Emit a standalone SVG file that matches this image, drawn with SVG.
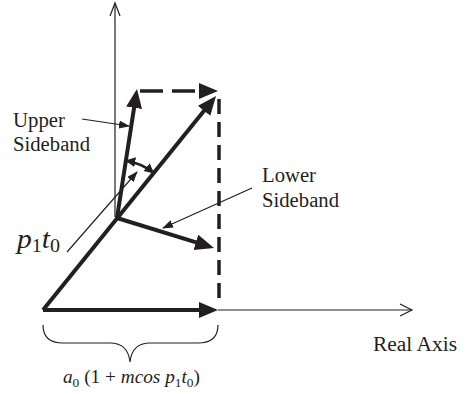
<svg xmlns="http://www.w3.org/2000/svg" width="465" height="394" viewBox="0 0 465 394">
<defs>
<style>
text{font-family:"Liberation Serif","DejaVu Serif","Times New Roman",Times,serif;fill:#231f20}
.lbl{font-size:20.5px}
.it{font-style:italic}
.thick{stroke:#231f20;stroke-width:4;fill:none;stroke-linecap:butt}
.thin{stroke:#231f20;stroke-width:1.2;fill:none}
.dash{stroke:#231f20;stroke-width:3.5;fill:none}
</style>
<marker id="big" markerUnits="userSpaceOnUse" markerWidth="22" markerHeight="18" refX="8" refY="8" orient="auto">
<path d="M0,0 L19,8 L0,16 z" fill="#231f20"/>
</marker>
<marker id="small" markerUnits="userSpaceOnUse" markerWidth="12" markerHeight="10" refX="10" refY="4" orient="auto">
<path d="M0,0 L11,4 L0,8 z" fill="#231f20"/>
</marker>
<marker id="arcHead" markerUnits="userSpaceOnUse" markerWidth="12" markerHeight="12" refX="9" refY="5" orient="auto-start-reverse">
<path d="M0,0 L10,5 L0,10 z" fill="#231f20"/>
</marker>
</defs>
<rect width="465" height="394" fill="#ffffff"/>

<g id="axes">
<line class="thin" x1="115" y1="217" x2="115" y2="3"/>
<polyline class="thin" points="110,16 115,3 120,16"/>
<line class="thin" x1="218" y1="310" x2="412" y2="310"/>
<polyline class="thin" points="400,304 412,310 400,316"/>
</g>

<g id="connectors">
<line id="carrier-real" class="thick" x1="43" y1="310" x2="207" y2="310" marker-end="url(#big)"/>
<line id="carrier" class="thick" x1="43" y1="310" x2="209.1" y2="104.6" marker-end="url(#big)"/>
<line id="upper-sb" class="thick" x1="117" y1="218" x2="135.3" y2="99.9" marker-end="url(#big)"/>
<line id="lower-sb" class="thick" x1="117" y1="218" x2="203.5" y2="244.7" marker-end="url(#big)"/>
<line id="dash-h" class="dash" x1="140" y1="91" x2="207" y2="91" stroke-dasharray="23,9" marker-end="url(#big)"/>
<line id="dash-v" class="dash" x1="219" y1="99" x2="219" y2="305" stroke-dasharray="15,8"/>
<path id="angle" d="M126.3,160.7 A58,58 0 0,1 153.5,172.8" stroke="#231f20" stroke-width="2.5" fill="none" marker-start="url(#arcHead)" marker-end="url(#arcHead)"/>
<line class="thin" x1="82" y1="119" x2="129" y2="126" marker-end="url(#small)"/>
<line class="thin" x1="252" y1="188" x2="163" y2="228" marker-end="url(#small)"/>
<line class="thin" x1="67" y1="252" x2="137" y2="172" marker-end="url(#small)"/>
<path id="brace" class="thin" d="M43,325 Q43,343 63,343 L110,343 Q128,343 130,362 Q132,343 150,343 L198,343 Q218,343 218,325"/>
</g>

<g id="upper-label">
<text class="lbl" x="13" y="127" textLength="52" lengthAdjust="spacingAndGlyphs">Upper</text>
<text class="lbl" x="13" y="151" textLength="77" lengthAdjust="spacingAndGlyphs">Sideband</text>
</g>
<g id="lower-label">
<text class="lbl" x="262" y="182" textLength="54" lengthAdjust="spacingAndGlyphs">Lower</text>
<text class="lbl" x="262" y="207" textLength="77" lengthAdjust="spacingAndGlyphs">Sideband</text>
</g>
<g id="real-axis-label">
<text class="lbl" x="373" y="351" textLength="84" lengthAdjust="spacingAndGlyphs">Real Axis</text>
</g>
<g id="angle-label">
<text x="17" y="248" font-size="28" textLength="43" lengthAdjust="spacingAndGlyphs"><tspan class="it">p</tspan><tspan font-size="19" dy="4">1</tspan><tspan class="it" dy="-4">t</tspan><tspan font-size="19" dy="4">0</tspan></text>
</g>
<g id="amplitude-label">
<text x="63" y="383" font-size="18" textLength="137" lengthAdjust="spacingAndGlyphs"><tspan class="it">a</tspan><tspan font-size="12.5" dy="4">0</tspan><tspan dy="-4"> (1 + </tspan><tspan class="it">mcos p</tspan><tspan font-size="12.5" dy="4">1</tspan><tspan class="it" dy="-4">t</tspan><tspan font-size="12.5" dy="4">0</tspan><tspan dy="-4">)</tspan></text>
</g>
</svg>
